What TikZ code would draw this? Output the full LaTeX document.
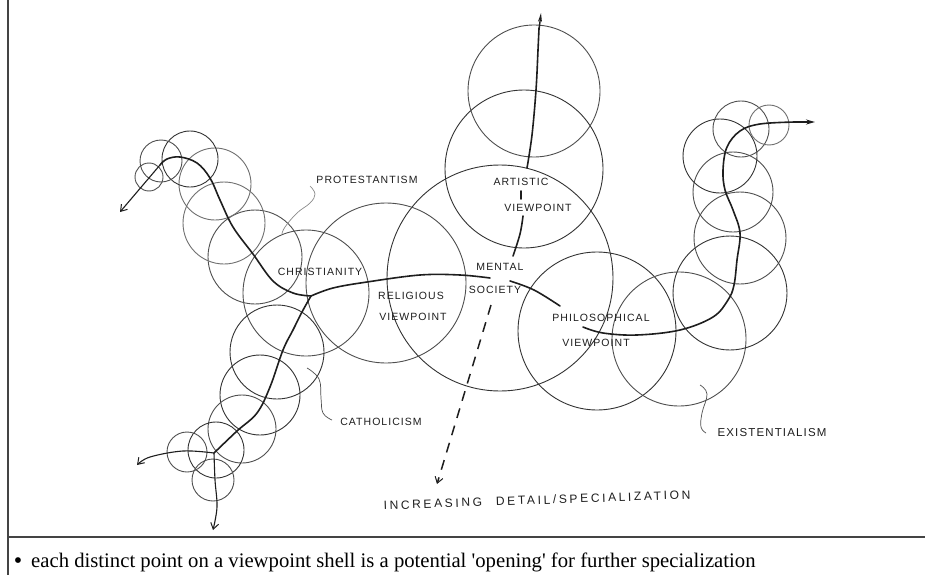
\documentclass[tikz,border=0pt]{standalone}
\usepackage{fontspec}
\setmainfont{Liberation Serif}
\newfontfamily\hand[LetterSpace=10]{Liberation Sans}
\newfontfamily\handwide[LetterSpace=22]{Liberation Sans}
\usetikzlibrary{arrows.meta}
\definecolor{ink}{HTML}{1E1E1E}
\definecolor{pen}{HTML}{333333}
\definecolor{mid}{HTML}{4F4F4F}
\definecolor{faint}{HTML}{707070}
\definecolor{lead}{HTML}{8A8A8A}
\definecolor{rule}{HTML}{444444}
\begin{document}
\begin{tikzpicture}[x=1pt,y=-1pt,
  shell/.style={circle, draw=#1, line width=0.9pt, inner sep=0pt},
  lab/.style={font=\hand\fontsize{10.5}{12}\selectfont, inner sep=0pt, text=ink},
  bigpath/.style={draw=ink, line width=1.6pt, line cap=round, line join=round},
  leader/.style={draw=lead, line width=0.7pt},
  vtip/.style={-{Straight Barb[length=6pt,width=8pt,line width=1pt]}},
  ftip/.style={-{Stealth[length=9pt,width=4pt]}}]
\useasboundingbox (0,0) rectangle (925,575);
\fill[white] (0,0) rectangle (925,575);

% frame
\draw[rule, line width=1.2pt] (8,0) -- (8,575);
\draw[rule, line width=2pt] (8,537) -- (925,537);

% main shells
\node[shell=pen, minimum size=226pt] (mental) at (500,278) {};
\node[shell=mid, minimum size=160pt] (relig) at (386,283) {};
\node[shell=mid, minimum size=126pt] (christ) at (306,293) {};
\node[shell=pen, minimum size=158pt] (artis) at (524,169) {};
\node[shell=mid, minimum size=132pt] (topc) at (534,91) {};
\node[shell=pen, minimum size=158pt] (philo) at (597,331) {};
\node[shell=mid, minimum size=134pt] (exist) at (679,339) {};

% right chain
\node[shell=pen, minimum size=114pt] (r1) at (730,293) {};
\node[shell=mid, minimum size=92pt] (r2) at (740,238) {};
\node[shell=mid, minimum size=80pt] (r3) at (733,192) {};
\node[shell=pen, minimum size=74pt] (r4) at (720,156) {};
\node[shell=mid, minimum size=56pt] (r5) at (741,129) {};
\node[shell=faint, minimum size=40pt] (r6) at (769,125) {};

% upper-left chain
\node[shell=mid, minimum size=94pt] (l1) at (255,257) {};
\node[shell=faint, minimum size=82pt] (l2) at (224,223) {};
\node[shell=faint, minimum size=72pt] (l3) at (215,184) {};
\node[shell=pen, minimum size=56pt] (l4) at (190,159) {};
\node[shell=mid, minimum size=42pt] (l5) at (161,161) {};
\node[shell=mid, minimum size=28pt] (l6) at (149,177) {};

% lower-left chain
\node[shell=pen, minimum size=94pt] (d1) at (277,352) {};
\node[shell=pen, minimum size=80pt] (d2) at (260,395) {};
\node[shell=mid, minimum size=68pt] (d3) at (242,429) {};
\node[shell=pen, minimum size=56pt] (d4) at (216,450) {};
\node[shell=mid, minimum size=40pt] (d5) at (187,452) {};
\node[shell=mid, minimum size=42pt] (d6) at (213,480) {};

% labels
\node[lab] (tprot) at (367,180) {PROTESTANTISM};
\node[lab] (tchrist) at (320,272) {CHRISTIANITY};
\node[lab] (trel1) at (411,296) {RELIGIOUS};
\node[lab] (trel2) at (413,317) {VIEWPOINT};
\node[lab] (tmen1) at (500,267) {MENTAL};
\node[lab] (tmen2) at (495,290) {SOCIETY};
\node[lab] (tart1) at (521,182) {ARTISTIC};
\node[lab] (tart2) at (538,208) {VIEWPOINT};
\node[lab] (tphi1) at (601,318) {PHILOSOPHICAL};
\node[lab] (tphi2) at (596,343) {VIEWPOINT};
\node[lab] (tcath) at (381,422) {CATHOLICISM};
\node[lab, font=\hand\fontsize{11.5}{12}\selectfont] (texis) at (772,433) {EXISTENTIALISM};
\node[lab, font=\handwide\fontsize{12}{13}\selectfont, rotate=2] (tincr) at (537,500) {INCREASING\hspace{14pt}DETAIL/SPECIALIZATION};

% junction and arrow ends
\coordinate (J) at (311,296);
\coordinate (tipTL) at (120,212);
\coordinate (kTL) at (160,165);
\coordinate (kLL) at (214,453);
\coordinate (tipLW) at (137,465);
\coordinate (tipLS) at (213,530);
\coordinate (tipUP) at (541,13);
\coordinate (tipR) at (815,122);
\coordinate (dashA) at (491,305);
\coordinate (dashB) at (437,484);

% upper-left thick path
\draw[bigpath] plot[smooth, tension=0.6] coordinates {(J) (293,293) (273,281) (253,254) (233,227) (220,200) (210,178) (197,163) (180,157) (167,159) (kTL)};
\draw[ink, line width=1.1pt, vtip] (kTL) -- (tipTL);

% main horizontal
\draw[bigpath] plot[smooth, tension=0.6] coordinates {(J) (333,288) (367,282) (420,275) (460,275) (490,278)};
\draw[bigpath] plot[smooth, tension=0.6] coordinates {(510,281) (534,290) (560,306)};

% right thick path
\draw[bigpath] plot[smooth, tension=0.6] coordinates {(583,327) (603,333) (637,335) (680,330) (713,317) (728,300) (734,285) (737,260) (740,233) (733,210) (725,190) (723,170) (727,147) (740,131) (760,124) (795,122)};
\draw[ink, line width=1.4pt, -{Stealth[length=9pt,width=5pt]}] (793,122) -- (tipR);

% lower-left thick path
\draw[bigpath] plot[smooth, tension=0.6] coordinates {(J) (302,312) (293,330) (283,350) (270,387) (257,413) (237,431) (kLL)};
\draw[ink, line width=1.1pt, vtip] plot[smooth, tension=0.6] coordinates {(kLL) (183,451) (150,457) (tipLW)};
\draw[ink, line width=1.1pt, vtip] plot[smooth, tension=0.6] coordinates {(kLL) (215,480) (217,507) (tipLS)};

% artistic vertical
\draw[bigpath] plot[smooth, tension=0.6] coordinates {(513,256) (520,234) (523,216)};
\draw[bigpath] (521,191) -- (521,199);
\draw[bigpath] plot[smooth, tension=0.6] coordinates {(527,168) (532,135) (536,90) (538,50) (539,28)};
\draw[ink, line width=1.4pt, ftip] (539,30) -- (tipUP);

% dashed arrow
\draw[ink, line width=1.5pt, dash pattern=on 10pt off 8pt, vtip] (dashA) -- (dashB);

% leaders
\draw[leader] plot[smooth, tension=0.7] coordinates {(310,186) (315,194) (310,203) (297,213) (285,227) (282,234)};
\draw[leader, draw=mid] plot[smooth, tension=0.7] coordinates {(307,368) (319,379) (321,398) (323,413) (332,420)};
\draw[leader, draw=mid] plot[smooth, tension=0.7] coordinates {(700,385) (707,394) (702,413) (701,427) (706,433)};

% note
\node[anchor=base, inner sep=0pt, font=\fontsize{24}{26}\selectfont] (bul) at (18,568) {\textbullet};
\node[anchor=base west, inner sep=0pt, font=\fontsize{20.7}{23}\selectfont] (note) at (31,567) {each distinct point on a viewpoint shell is a potential \textquotesingle opening\textquotesingle\ for further specialization};
\end{tikzpicture}
\end{document}
